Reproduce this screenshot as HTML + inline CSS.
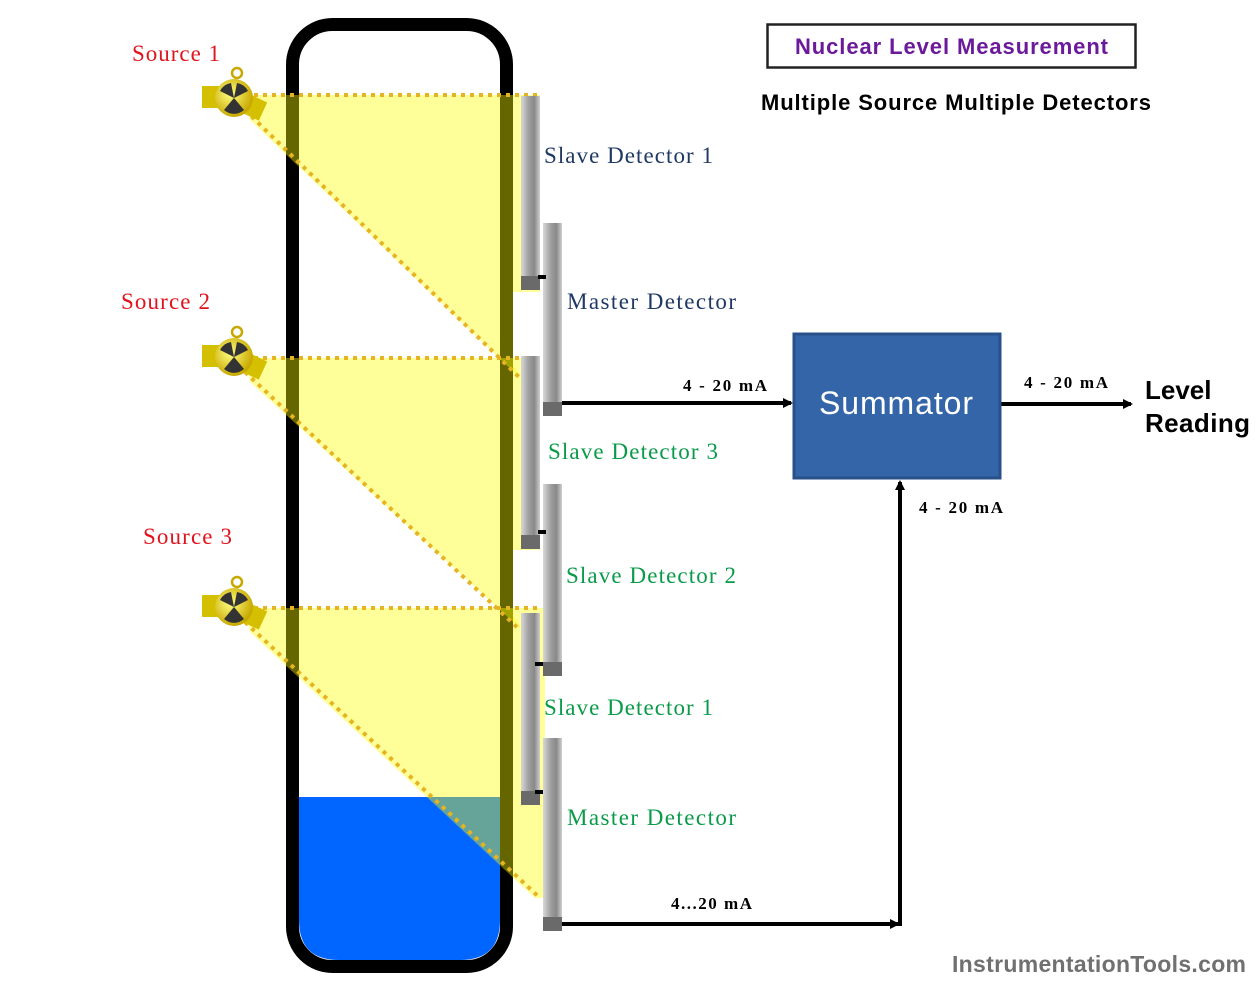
<!DOCTYPE html>
<html><head><meta charset="utf-8"><style>
body{margin:0;background:#fff;width:1260px;height:988px;overflow:hidden}
svg{display:block}
.s{font-family:"Liberation Serif",serif;font-size:23px}
.b{font-family:"Liberation Sans",sans-serif;font-weight:bold}
</style></head><body>
<svg width="1260" height="988" viewBox="0 0 1260 988">
<defs>
<linearGradient id="tube" x1="0" x2="1"><stop offset="0" stop-color="#d8d8d8"/><stop offset="0.4" stop-color="#a0a0a0"/><stop offset="0.7" stop-color="#888"/><stop offset="1" stop-color="#cfcfcf"/></linearGradient>
<radialGradient id="src" cx="0.4" cy="0.4" r="0.6"><stop offset="0" stop-color="#ffff80"/><stop offset="1" stop-color="#c8a800"/></radialGradient>
<marker id="ar" markerWidth="10" markerHeight="10" refX="8" refY="5" orient="auto" markerUnits="userSpaceOnUse"><path d="M0,0 L10,5 L0,10 Z" fill="#000"/></marker>
<g id="srcicon"><rect x="-32" y="-12" width="18" height="22" fill="#d4c000"/><rect x="12" y="-10" width="20" height="20" fill="#d4c000" transform="rotate(25)"/><circle r="19" fill="url(#src)"/><circle cx="3" cy="-25" r="5" fill="none" stroke="#c8a800" stroke-width="2.5"/><path d="M0,0 L-14,-7 A15,15 0 0 1 -3,-15 Z M0,0 L14,-7 A15,15 0 0 0 3,-15 Z M0,0 L-10,12 A15,15 0 0 0 10,12 Z" fill="#333"/></g>
</defs>
<!-- vessel -->
<rect x="292.5" y="24.5" width="214" height="942" rx="40" fill="#fff" stroke="#000" stroke-width="13"/>
<path d="M299,797 H500 V920 Q500,960 460,960 H339 Q299,960 299,920 Z" fill="#0066ff"/>
<!-- beams -->
<g fill="#ffff00" fill-opacity="0.4">
<polygon points="245,95 540,95 540,292 513,292 513,365 522,380 250,120"/>
<polygon points="245,358 540,358 540,550 513,550 513,615 522,630 250,382"/>
<polygon points="245,608 545,608 545,898 535,898 250,632"/>
</g>
<g stroke="#e6b422" stroke-width="4" stroke-dasharray="4,5" fill="none">
<line x1="245" y1="95" x2="540" y2="95"/><line x1="245" y1="110" x2="522" y2="380"/>
<line x1="245" y1="358" x2="522" y2="358"/><line x1="245" y1="372" x2="520" y2="630"/>
<line x1="245" y1="608" x2="540" y2="608"/><line x1="245" y1="622" x2="540" y2="898"/>
</g>
<!-- sources -->
<use href="#srcicon" transform="translate(234,98)"/>
<use href="#srcicon" transform="translate(234,357)"/>
<use href="#srcicon" transform="translate(234,607)"/>
<!-- detectors -->
<g fill="url(#tube)">
<rect x="521" y="96" width="19" height="194"/><rect x="543" y="223" width="19" height="193"/>
<rect x="521" y="356" width="19" height="193"/><rect x="543" y="484" width="19" height="192"/>
<rect x="521" y="613" width="19" height="192"/><rect x="543" y="738" width="19" height="193"/>
</g>
<g fill="#6a6a6a">
<rect x="521" y="276" width="19" height="14"/><rect x="543" y="402" width="19" height="14"/>
<rect x="521" y="535" width="19" height="14"/><rect x="543" y="662" width="19" height="14"/>
<rect x="521" y="791" width="19" height="14"/><rect x="543" y="917" width="19" height="14"/>
</g>
<g fill="#000"><rect x="538" y="275" width="8" height="4"/><rect x="538" y="530" width="8" height="4"/><rect x="535" y="662" width="8" height="4"/><rect x="535" y="790" width="8" height="4"/></g>
<!-- labels -->
<g class="s">
<text x="132" y="61" fill="#e0141e" textLength="88">Source 1</text>
<text x="121" y="309" fill="#e0141e" textLength="89">Source 2</text>
<text x="143" y="544" fill="#e0141e" textLength="89">Source 3</text>
<text x="544" y="163" fill="#1f3864" textLength="169">Slave Detector 1</text>
<text x="567" y="309" fill="#1f3864" textLength="169">Master Detector</text>
<text x="548" y="459" fill="#0a9a4a" textLength="170">Slave Detector 3</text>
<text x="566" y="583" fill="#0a9a4a" textLength="170">Slave Detector 2</text>
<text x="544" y="715" fill="#0a9a4a" textLength="169">Slave Detector 1</text>
<text x="567" y="825" fill="#0a9a4a" textLength="169">Master Detector</text>
</g>
<!-- connections -->
<g stroke="#000" stroke-width="4" fill="none">
<line x1="562" y1="403" x2="791" y2="403" marker-end="url(#ar)"/>
<line x1="1000" y1="404" x2="1131" y2="404" marker-end="url(#ar)"/>
<line x1="562" y1="924" x2="898" y2="924" marker-end="url(#ar)"/>
<line x1="900" y1="926" x2="900" y2="482" marker-end="url(#ar)"/>
</g>
<g font-family="Liberation Serif,serif" font-weight="bold" font-size="17">
<text x="683" y="391" textLength="84">4 - 20 mA</text>
<text x="1024" y="388" textLength="84">4 - 20 mA</text>
<text x="919" y="513" textLength="84">4 - 20 mA</text>
<text x="671" y="909" textLength="81">4...20 mA</text>
</g>
<rect x="794" y="334" width="206" height="144" fill="#3465a8" stroke="#28508a" stroke-width="3"/>
<text x="819" y="414" textLength="154" font-family="Liberation Sans,sans-serif" font-size="32" fill="#fff">Summator</text>
<text x="1145" y="399" class="b" font-size="26">Level</text>
<text x="1145" y="432" class="b" font-size="26" textLength="105">Reading</text>
<rect x="767.5" y="24.5" width="368" height="43" fill="#fff" stroke="#222" stroke-width="2.5"/>
<text x="795" y="54" textLength="313" class="b" font-size="22" fill="#6a1a9a">Nuclear Level Measurement</text>
<text x="761" y="110" textLength="390" class="b" font-size="22" fill="#000">Multiple Source Multiple Detectors</text>
<text x="952" y="972" textLength="294" class="b" font-size="23" fill="#707070">InstrumentationTools.com</text>
</svg>
</body></html>
